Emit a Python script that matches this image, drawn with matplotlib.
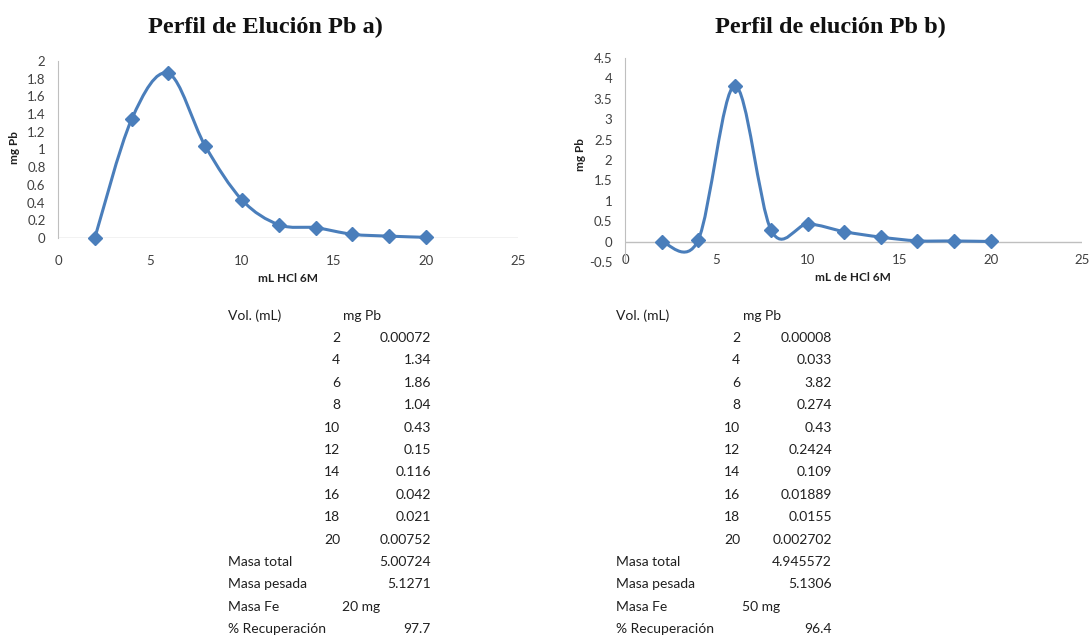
import numpy as np
import matplotlib.pyplot as plt
from matplotlib.path import Path
from matplotlib.patches import PathPatch

# datos de elucion
vol = [2, 4, 6, 8, 10, 12, 14, 16, 18, 20]
pb_a = [0.00072, 1.34, 1.86, 1.04, 0.43, 0.15, 0.116, 0.042, 0.021, 0.00752]
pb_b = [0.00008, 0.033, 3.82, 0.274, 0.43, 0.2424, 0.109, 0.01889, 0.0155, 0.002702]

resumen_nombres = ['Masa total', 'Masa pesada', 'Masa Fe', '% Recuperación']
resumen_a = [5.00724, 5.1271, '20 mg', 97.7]
resumen_b = [4.945572, 5.1306, '50 mg', 96.4]

W, H = 1089, 636
AZUL = '#4a7ebb'
GRIS = '#bfbfbf'
TXT = '#404040'
FUENTE = 'Lato'


def fx(px):
    return px / W


def fy(py):
    return 1 - py / H


def curva_suave(x, y):
    # curva tipo excel (bezier catmull-rom)
    p = np.column_stack([x, y])
    n = len(p)
    verts = [p[0]]
    codes = [Path.MOVETO]
    for i in range(n - 1):
        p0 = p[i - 1] if i > 0 else p[i]
        p3 = p[i + 2] if i + 2 < n else p[i + 1]
        c1 = p[i] + (p[i + 1] - p0) / 6
        c2 = p[i + 1] - (p3 - p[i]) / 6
        verts += [c1, c2, p[i + 1]]
        codes += [Path.CURVE4] * 3
    return Path(verts, codes)


def fmt(v):
    if isinstance(v, str):
        return v
    return np.format_float_positional(v, trim='-')


def grafica(ax, y, ymin, ymax, yticks, pad_x):
    ax.add_patch(PathPatch(curva_suave(vol, y), fill=False, edgecolor=AZUL,
                           lw=2.2, transform=ax.transData, zorder=3,
                           clip_on=False))
    ax.plot(vol, y, linestyle='none', marker='D', ms=7, color=AZUL, zorder=4,
            clip_on=False)
    ax.set_xlim(0, 25)
    ax.set_ylim(ymin, ymax)
    ax.set_xticks([0, 5, 10, 15, 20, 25])
    ax.set_yticks(yticks)
    ax.set_yticklabels([fmt(t) for t in yticks])
    for s in ['top', 'right', 'bottom']:
        ax.spines[s].set_visible(False)
    ax.spines['left'].set_color(GRIS)
    ax.axhline(0, color=GRIS, lw=1, zorder=1)
    ax.tick_params(length=0, labelsize=9.5, colors=TXT)
    ax.tick_params(axis='x', pad=pad_x)
    ax.tick_params(axis='y', pad=9)
    for lab in ax.get_xticklabels() + ax.get_yticklabels():
        lab.set_family(FUENTE)
    ax.patch.set_visible(False)


def tabla(x_lab, x_c1, x_c2, x_mg, y_vals, resumen):
    fig.text(fx(x_lab), fy(316), 'Vol. (mL)', family=FUENTE, fontsize=10,
             color='#202020', va='center', ha='left')
    fig.text(fx(x_mg), fy(316), 'mg Pb', family=FUENTE, fontsize=10,
             color='#202020', va='center', ha='left')
    for i, (v, m) in enumerate(zip(vol, y_vals)):
        yy = 338 + i * 22.4
        fig.text(fx(x_c1), fy(yy), str(v), family=FUENTE, fontsize=10,
                 color='#202020', va='center', ha='right')
        fig.text(fx(x_c2), fy(yy), fmt(m), family=FUENTE, fontsize=10,
                 color='#202020', va='center', ha='right')
    for j, (nom, val) in enumerate(zip(resumen_nombres, resumen)):
        yy = 338 + (len(vol) + j) * 22.4
        fig.text(fx(x_lab), fy(yy), nom, family=FUENTE, fontsize=10,
                 color='#202020', va='center', ha='left')
        if isinstance(val, str):
            fig.text(fx(x_mg - 1), fy(yy), val, family=FUENTE, fontsize=10,
                     color='#202020', va='center', ha='left')
        else:
            fig.text(fx(x_c2), fy(yy), fmt(val), family=FUENTE, fontsize=10,
                     color='#202020', va='center', ha='right')


fig = plt.figure(figsize=(W / 100, H / 100), dpi=100)

ax1 = fig.add_axes([fx(58), fy(238), (518 - 58) / W, (238 - 61) / H])
grafica(ax1, pb_a, 0, 2, [0, 0.2, 0.4, 0.6, 0.8, 1, 1.2, 1.4, 1.6, 1.8, 2], 12)

ax2 = fig.add_axes([fx(625), fy(262), (1082 - 625) / W, (262 - 58) / H])
grafica(ax2, pb_b, -0.5, 4.5, [-0.5, 0, 0.5, 1, 1.5, 2, 2.5, 3, 3.5, 4, 4.5], -6)

# titulos y ejes
fig.text(fx(265), fy(27), 'Perfil de Elución Pb a)', family='Liberation Serif',
         fontsize=17.5, fontweight='bold', ha='center', va='center', color='#111111')
fig.text(fx(830), fy(27), 'Perfil de elución Pb b)', family='Liberation Serif',
         fontsize=17.5, fontweight='bold', ha='center', va='center', color='#111111')
fig.text(fx(288), fy(278), 'mL HCl 6M', family=FUENTE, fontsize=8.5,
         fontweight='bold', ha='center', va='center', color='#202020')
fig.text(fx(853), fy(277), 'mL de HCl 6M', family=FUENTE, fontsize=8.5,
         fontweight='bold', ha='center', va='center', color='#202020')
fig.text(fx(15), fy(148), 'mg Pb', family=FUENTE, fontsize=8.5, rotation=90,
         fontweight='bold', ha='center', va='center', color='#202020')
fig.text(fx(580), fy(155), 'mg Pb', family=FUENTE, fontsize=8.5, rotation=90,
         fontweight='bold', ha='center', va='center', color='#202020')

tabla(228, 340, 431, 343, pb_a, resumen_a)
tabla(616, 740, 832, 743, pb_b, resumen_b)

fig.savefig('out.png', dpi=100)
